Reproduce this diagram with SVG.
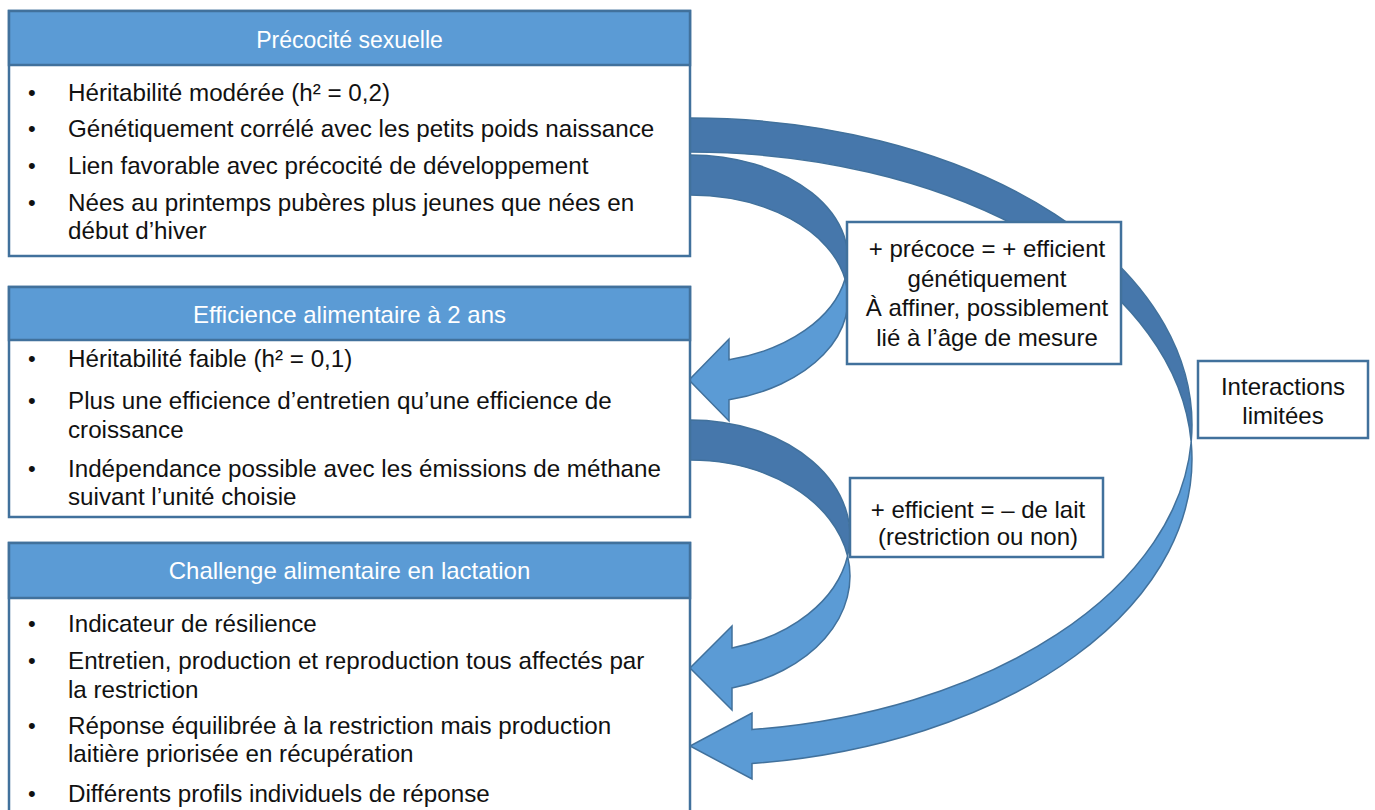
<svg xmlns="http://www.w3.org/2000/svg" width="1375" height="810" viewBox="0 0 1375 810">
<style>
.box{fill:#ffffff;stroke:#41719c;stroke-width:2.5}
.hdr{fill:#5b9bd5;stroke:#41719c;stroke-width:2.5}
.ht{font-family:"Liberation Sans",Arial,sans-serif;font-size:24px;fill:#ffffff;text-anchor:middle}
.bt{font-family:"Liberation Sans",Arial,sans-serif;font-size:24.2px;fill:#111111}
.bu{font-family:"Liberation Sans",Arial,sans-serif;font-size:22px;fill:#111111}
.lbl{font-family:"Liberation Sans",Arial,sans-serif;font-size:24px;fill:#111111;text-anchor:middle}
.back{fill:#4677ab;stroke:#41719c;stroke-width:1.5;stroke-linejoin:round}
.front{fill:#5b9bd5;stroke:#41719c;stroke-width:1.5;stroke-linejoin:miter}
</style>
<rect width="1375" height="810" fill="#ffffff"/>

<g id="connectors">
  <!-- outer arrow: Précocité -> Challenge -->
  <path class="back" d="M 690 118 A 502 307 0 0 1 1191.2 442 A 502 307 0 0 0 690 152 Z"/>
  <path class="front" d="M 1191.2 442 A 502 307 0 0 1 752 729.6 L 752 713 L 690 746 L 752 779 L 752 763.6 A 502 307 0 0 0 1191.2 442 Z"/>
  <!-- arrow 1: Précocité -> Efficience -->
  <path class="back" d="M 690 155 A 158 104 0 0 1 845.05 279 A 158 104 0 0 0 690 195 Z"/>
  <path class="front" d="M 845.05 279 A 158 104 0 0 1 729 359.8 L 729 339 L 689 380 L 729 421 L 729 399.8 A 158 104 0 0 0 845.05 279 Z"/>
  <!-- arrow 2: Efficience -> Challenge -->
  <path class="back" d="M 690 420 A 160 116 0 0 1 847.6 556 A 160 116 0 0 0 690 460 Z"/>
  <path class="front" d="M 847.6 556 A 160 116 0 0 1 732 647.9 L 732 626 L 690 668 L 732 710 L 732 687.9 A 160 116 0 0 0 847.6 556 Z"/>
</g>

<g id="node-precocite">
  <rect class="box" x="9" y="11" width="681" height="245"/>
  <rect class="hdr" x="9" y="11" width="681" height="54"/>
  <text class="ht" x="349.5" y="47.5" style="font-size:23px">Précocité sexuelle</text>
  <text class="bu" x="28" y="100">•</text><text class="bt" x="68" y="100.5">Héritabilité modérée (h² = 0,2)</text>
  <text class="bu" x="28" y="136">•</text><text class="bt" x="68" y="136.5">Génétiquement corrélé avec les petits poids naissance</text>
  <text class="bu" x="28" y="173">•</text><text class="bt" x="68" y="173.5">Lien favorable avec précocité de développement</text>
  <text class="bu" x="28" y="210">•</text><text class="bt" x="68" y="210.5">Nées au printemps pubères plus jeunes que nées en</text>
  <text class="bt" x="68" y="238.5">début d’hiver</text>
</g>

<g id="node-efficience">
  <rect class="box" x="9" y="287" width="681" height="230"/>
  <rect class="hdr" x="9" y="287" width="681" height="53"/>
  <text class="ht" x="349.5" y="322.5">Efficience alimentaire à 2 ans</text>
  <text class="bu" x="28" y="366">•</text><text class="bt" x="68" y="366.5">Héritabilité faible (h² = 0,1)</text>
  <text class="bu" x="28" y="408">•</text><text class="bt" x="68" y="408.5">Plus une efficience d’entretien qu’une efficience de</text>
  <text class="bt" x="68" y="437.5">croissance</text>
  <text class="bu" x="28" y="476">•</text><text class="bt" x="68" y="476.5">Indépendance possible avec les émissions de méthane</text>
  <text class="bt" x="68" y="504.5">suivant l’unité choisie</text>
</g>

<g id="node-challenge">
  <rect class="box" x="9" y="543" width="681" height="275"/>
  <rect class="hdr" x="9" y="543" width="681" height="55"/>
  <text class="ht" x="349.5" y="579">Challenge alimentaire en lactation</text>
  <text class="bu" x="28" y="631">•</text><text class="bt" x="68" y="631.5">Indicateur de résilience</text>
  <text class="bu" x="28" y="668">•</text><text class="bt" x="68" y="668.5">Entretien, production et reproduction tous affectés par</text>
  <text class="bt" x="68" y="697.5">la restriction</text>
  <text class="bu" x="28" y="733">•</text><text class="bt" x="68" y="733.5">Réponse équilibrée à la restriction mais production</text>
  <text class="bt" x="68" y="761.5">laitière priorisée en récupération</text>
  <text class="bu" x="28" y="801">•</text><text class="bt" x="68" y="801.5">Différents profils individuels de réponse</text>
</g>

<g id="label-precoce">
  <rect class="box" x="847" y="222" width="274" height="142"/>
  <text class="lbl" x="987" y="256.5">+ précoce = + efficient</text>
  <text class="lbl" x="987" y="286.5">génétiquement</text>
  <text class="lbl" x="987" y="315.5">À affiner, possiblement</text>
  <text class="lbl" x="987" y="345.5">lié à l’âge de mesure</text>
</g>

<g id="label-efficient">
  <rect class="box" x="850" y="478" width="253" height="79"/>
  <text class="lbl" x="978" y="517.5">+ efficient = – de lait</text>
  <text class="lbl" x="978" y="544.5">(restriction ou non)</text>
</g>

<g id="label-interactions">
  <rect class="box" x="1198" y="361" width="170" height="77"/>
  <text class="lbl" x="1283" y="394.5">Interactions</text>
  <text class="lbl" x="1283" y="423.5">limitées</text>
</g>
</svg>
